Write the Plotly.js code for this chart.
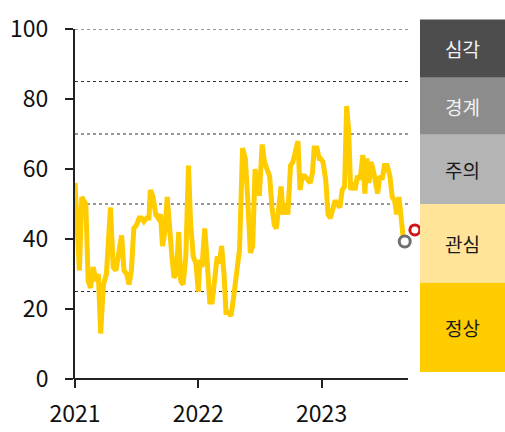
<!DOCTYPE html>
<html>
<head>
<meta charset="utf-8">
<script src="https://cdn.plot.ly/plotly-3.0.1.min.js"></script>
<style>html,body{margin:0;padding:0;background:#fff;}#chart{width:505px;height:432px;}</style>
</head>
<body>
<div id="chart"></div>
<script>
// Index series (weekly)
const dates = [
"2021-01-01","2021-01-08","2021-01-14","2021-01-21","2021-01-28","2021-02-02","2021-02-09","2021-02-16","2021-02-24","2021-03-04",
"2021-03-11","2021-03-18","2021-03-26","2021-04-04","2021-04-16","2021-04-24","2021-05-02","2021-05-12","2021-05-19","2021-05-26",
"2021-06-03","2021-06-10","2021-06-17","2021-06-24","2021-07-02","2021-07-10","2021-07-17","2021-07-24","2021-08-01","2021-08-08",
"2021-08-12","2021-08-20","2021-08-28","2021-09-04","2021-09-11","2021-09-17","2021-09-24","2021-10-01","2021-10-07","2021-10-14",
"2021-10-21","2021-10-28","2021-11-04","2021-11-10","2021-11-17","2021-11-25","2021-12-03","2021-12-09","2021-12-17","2021-12-25",
"2022-01-01","2022-01-06","2022-01-12","2022-01-20","2022-01-27","2022-02-04","2022-02-11","2022-02-19","2022-02-26","2022-03-04",
"2022-03-11","2022-03-18","2022-03-24","2022-04-01","2022-04-08","2022-04-15","2022-04-25","2022-05-03","2022-05-12","2022-05-20",
"2022-05-27","2022-06-04","2022-06-11","2022-06-18","2022-06-25","2022-07-01","2022-07-09","2022-07-16","2022-07-23","2022-07-31",
"2022-08-07","2022-08-14","2022-08-20","2022-08-27","2022-09-03","2022-09-09","2022-09-16","2022-09-23","2022-10-01","2022-10-08",
"2022-10-16","2022-10-23","2022-10-29","2022-11-05","2022-11-12","2022-11-20","2022-11-28","2022-12-05","2022-12-10","2022-12-18",
"2022-12-25","2022-12-29","2023-01-05","2023-01-13","2023-01-20","2023-01-27","2023-02-04","2023-02-10","2023-02-16","2023-02-24",
"2023-03-03","2023-03-10","2023-03-16","2023-03-22","2023-03-28","2023-04-03","2023-04-10","2023-04-17","2023-04-25","2023-05-03",
"2023-05-09","2023-05-15","2023-05-21","2023-05-27","2023-06-02","2023-06-09","2023-06-16","2023-06-22","2023-06-29","2023-07-06",
"2023-07-14","2023-07-22","2023-07-29","2023-08-05","2023-08-11","2023-08-18","2023-08-25","2023-09-02"
];
const values = [
56,45,31,52,51,50,28,26,32,28,
30,13,27,30,49,32,31,38,41,31,
30,27,31,43,44,46,46,45,46,46,
54,52,47,46,47,38,42,52,43,36,
29,30,42,28,27,35,61,45,35,33,
25,34,32,43,34,22,22,30,35,33,
38,30,19,19,18,23,30,37,66,63,
52,36,38,60,53,53,67,62,60,58,
49,44,43,50,55,47,50,47,61,62,
65,68,54,58,58,57,56,59,66,66,
63,63,62,57,47,46,49,51,50,49,
54,55,78,71,54,56,54,58,57,64,
53,63,56,62,60,56,53,58,57,61,
61,58,52,51,47,52,46,38
];
// latest markers
const lastDate = ["2023-09-04"];
const lastValue = [39.3];
const prevDate = ["2023-10-04"];
const prevValue = [42.6];

// threshold grid levels
const gridLevels = [100, 85, 70, 50, 25];
// stage panel
const stageLabels = ["심각", "경계", "주의", "관심", "정상"];
const stageColors = ["#4d4d4d", "#8c8c8c", "#b4b4b4", "#ffe49a", "#ffcc00"];
const stageTextColors = ["#f2f2f2", "#f2f2f2", "#1a1a1a", "#1a1a1a", "#1a1a1a"];
const stageBounds = [1.027, 0.861, 0.698, 0.500, 0.275, 0.020]; // paper y

const yTicks = [0, 20, 40, 60, 80, 100];
const xTicks = ["2021-01-01", "2022-01-01", "2023-01-01"];
const xTickText = ["2021", "2022", "2023"];

const FONT = '"Noto Sans CJK KR", "Noto Sans", sans-serif';

// plot area spans 75..425 px; visible axis/grid end at 408 px
const AXIS_END = 0.9514;
const shapes = [];
gridLevels.forEach(v => shapes.push({
  type: 'line', xref: 'paper', yref: 'y', x0: 0, x1: AXIS_END, y0: v, y1: v,
  line: {color: '#333', width: 1, dash: 'dot'}, layer: 'below'
}));
shapes.push({
  type: 'line', xref: 'paper', yref: 'paper', x0: -0.003, x1: AXIS_END, y0: 0, y1: 0,
  line: {color: '#222', width: 2}
});
const annotations = [];
stageLabels.forEach((lab, i) => {
  shapes.push({
    type: 'rect', xref: 'paper', yref: 'paper', x0: 0.9857, x1: 1.23,
    y0: stageBounds[i + 1], y1: stageBounds[i],
    fillcolor: stageColors[i], line: {width: 0}
  });
  annotations.push({
    xref: 'paper', yref: 'paper', x: 1.107, y: (stageBounds[i] + stageBounds[i + 1]) / 2,
    text: lab, showarrow: false, xanchor: 'center', yanchor: 'middle',
    font: {family: FONT, size: 19, color: stageTextColors[i]}
  });
});

const traces = [
  {x: dates, y: values, type: 'scatter', mode: 'lines',
   line: {color: '#ffcc00', width: 5}, hoverinfo: 'skip'},
  {x: lastDate, y: lastValue, type: 'scatter', mode: 'markers', cliponaxis: false,
   marker: {symbol: 'circle', size: 11, color: '#ffffff', line: {width: 3, color: '#707070'}}},
  {x: prevDate, y: prevValue, type: 'scatter', mode: 'markers', cliponaxis: false,
   marker: {symbol: 'circle', size: 10, color: '#ffffff', line: {width: 3, color: '#d0141c'}}}
];

const layout = {
  width: 505, height: 432,
  margin: {l: 75, r: 80, t: 29, b: 53, pad: 0},
  paper_bgcolor: '#fff', plot_bgcolor: 'rgba(0,0,0,0)',
  showlegend: false,
  font: {family: FONT, size: 23, color: '#111'},
  xaxis: {
    type: 'date', range: ['2021-01-01', '2023-11-03'],
    tickmode: 'array', tickvals: xTicks, ticktext: xTickText,
    showgrid: false, zeroline: false, showline: false,
    ticks: 'outside', ticklen: 8, tickwidth: 2, tickcolor: '#222',
    ticklabelstandoff: 6,
    tickfont: {family: FONT, size: 23, color: '#111'}
  },
  yaxis: {
    range: [0, 100], tickmode: 'array', tickvals: yTicks,
    showgrid: false, zeroline: false, showline: true, linecolor: '#222', linewidth: 2,
    ticks: 'outside', ticklen: 8, tickwidth: 2, tickcolor: '#222',
    ticklabelstandoff: 12,
    tickfont: {family: FONT, size: 23, color: '#111'}
  },
  shapes: shapes,
  annotations: annotations
};

Plotly.newPlot('chart', traces, layout, {displayModeBar: false, staticPlot: true});
</script>
</body>
</html>
